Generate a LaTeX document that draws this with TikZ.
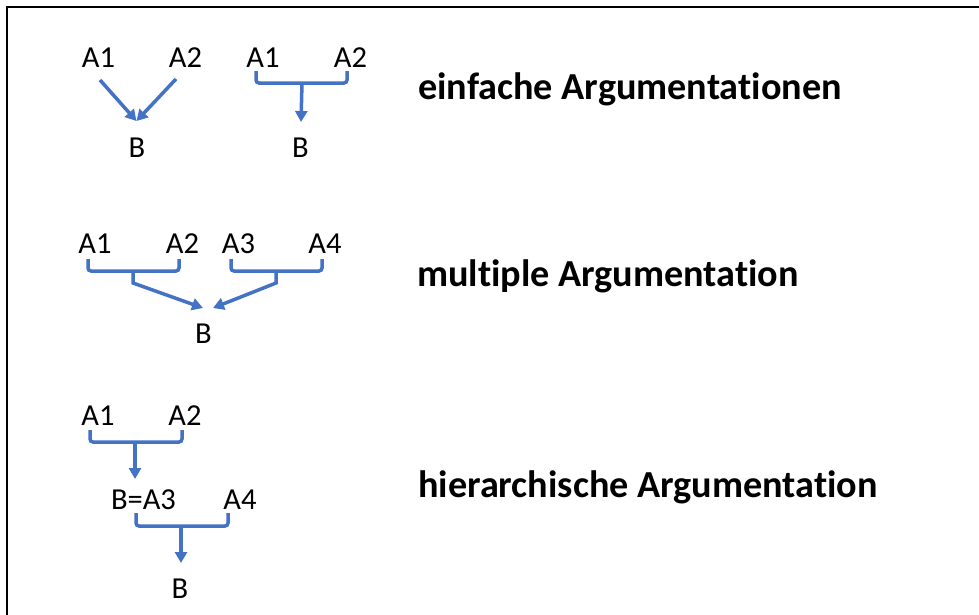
\documentclass[tikz,border=0pt]{standalone}
\usepackage{fontspec}
\setmainfont{Carlito}[Ligatures={NoCommon,NoRare,NoContextual}]
\usetikzlibrary{arrows.meta}
\definecolor{argblue}{HTML}{4472C4}
\begin{document}
\begin{tikzpicture}[x=1pt,y=-1pt,
  lbl/.style={inner sep=0pt,anchor=base,font=\fontsize{30.5}{30.5}\selectfont},
  ttl/.style={inner sep=0pt,anchor=base west,font=\fontsize{38.2}{38.2}\selectfont\bfseries},
  conn/.style={draw=argblue,line width=3.5pt},
  brk/.style={conn,rounded corners=3pt},
  arr/.style={conn,-{Triangle[length=11pt,width=12pt]}},
  frame/.style={draw=black,line width=1.8pt}]
\useasboundingbox (0,0) rectangle (979,614);
% frame
\coordinate (ftr) at (980,7);
\coordinate (ftl) at (7,7);
\coordinate (fbl) at (7,615);
\draw[frame] (ftr) -- (ftl) -- (fbl);

% group 1: simple, separate arrows
\node[lbl] (a1a) at (98.5,67) {A1};
\node[lbl] (a1b) at (185.5,67) {A2};
\node[lbl] (b1) at (137,157) {B};
\coordinate (s1a) at (100,80);
\coordinate (s1b) at (176,79);
\coordinate (t1) at (136.5,121);
\draw[arr] (s1a) -- (t1);
\draw[arr] (s1b) -- (t1);

% group 2: simple, joined
\node[lbl] (a2a) at (263,67) {A1};
\node[lbl] (a2b) at (350.5,67) {A2};
\node[lbl] (b2) at (300.5,157) {B};
\coordinate (l2) at (256,71);
\coordinate (r2) at (347,71);
\coordinate (m2) at (302,83);
\coordinate (t2) at (301,122);
\draw[brk] (l2) -- (256,83) -- (347,83) -- (r2);
\draw[arr] (m2) -- (t2);

\node[ttl] (t1txt) at (418,99.5) {einfache Argumentationen};

% group 3: multiple
\node[lbl] (a3a) at (95,253) {A1};
\node[lbl] (a3b) at (182.5,253) {A2};
\node[lbl] (a3c) at (238.5,253) {A3};
\node[lbl] (a3d) at (325,253) {A4};
\node[lbl] (b3) at (203.5,343) {B};
\draw[brk] (88,259) -- (88,271) -- (179,271) -- (179,259);
\draw[brk] (231,259) -- (231,271) -- (322,271) -- (322,259);
\coordinate (m3a) at (133,271);
\coordinate (k3a) at (133,283);
\coordinate (t3a) at (203,308);
\coordinate (m3b) at (276,271);
\coordinate (k3b) at (276,283);
\coordinate (t3b) at (213,308);
\draw[arr] (m3a) -- (k3a) -- (t3a);
\draw[arr] (m3b) -- (k3b) -- (t3b);

\node[ttl] (t2txt) at (417,286) {multiple Argumentation};

% group 4: hierarchical
\node[lbl] (a4a) at (98,425) {A1};
\node[lbl] (a4b) at (185,425) {A2};
\node[lbl] (b4a) at (143.5,509) {B=A3};
\node[lbl] (a4d) at (240,509) {A4};
\node[lbl] (b4) at (180,598) {B};
\draw[brk] (90,430) -- (90,442) -- (182,442) -- (182,430);
\coordinate (m4a) at (135,442);
\coordinate (t4a) at (135,479);
\draw[arr] (m4a) -- (t4a);
\draw[brk] (136,513) -- (136,526) -- (228,526) -- (228,513);
\coordinate (m4b) at (181,526);
\coordinate (t4b) at (181,563);
\draw[arr] (m4b) -- (t4b);

\node[ttl] (t3txt) at (418,497) {hierarchische Argumentation};
\end{tikzpicture}
\end{document}
